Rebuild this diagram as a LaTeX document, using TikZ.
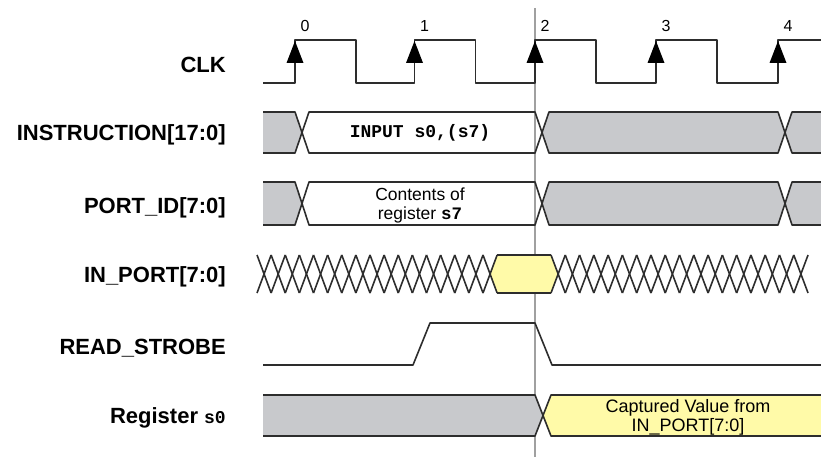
\documentclass[tikz,border=0pt]{standalone}
\usepackage{fontspec}
\setmainfont{Liberation Sans}
\newfontfamily\codefont{Liberation Mono}
\definecolor{WaveColor}{RGB}{45,45,45}
\definecolor{BusGray}{RGB}{200,201,204}
\definecolor{BusYellow}{RGB}{255,250,168}
\definecolor{MarkerGray}{RGB}{160,160,160}

\begin{document}
\begin{tikzpicture}[x=1pt, y=-1pt, line join=round,
    wave/.style={WaveColor, line width=1.6pt},
    siglabel/.style={anchor=east, inner sep=0pt, font=\fontsize{22}{26}\selectfont\bfseries},
    buslabel/.style={inner sep=0pt, align=center, font=\fontsize{17.5}{19}\selectfont}]
  \useasboundingbox (0,0) rectangle (821,457);

  % signal names
  \node[siglabel] (lclk)  at (226,65)  {CLK};
  \node[siglabel] (linst) at (226,135) {INSTRUCTION[17:0]};
  \node[siglabel] (lpid)  at (226,208) {PORT\_ID[7:0]};
  \node[siglabel] (linp)  at (226,277) {IN\_PORT[7:0]};
  \node[siglabel] (lrd)   at (226,348) {READ\_STROBE};
  \node[siglabel] (lreg)  at (226,418) {Register {\codefont\fontsize{18}{20}\selectfont s0}};

  % marker at clock edge 2
  \draw[MarkerGray, line width=2.2pt] (535,8) -- (535,457);

  % CLK
  \draw[wave] (263,83)
    \foreach \r in {295,414.5,535,656} { -- (\r,83) -- (\r,40) -- (\r+61,40) -- (\r+61,83) }
    -- (778,83) -- (778,40) -- (821,40);
  \foreach \r/\n in {295/0,414.5/1,535/2,656/3,778/4} {
    \fill[black] (\r,41) -- (\r+8.5,63) -- (\r-8.5,63) -- cycle;
    \node[inner sep=0pt, font=\fontsize{16}{18}\selectfont] (edge\n) at (\r+10,26) {\n};
  }

  % INSTRUCTION and PORT_ID
  \foreach \t/\b in {112/153, 182/225} {
    \fill[BusGray] (263,\t) -- (295,\t) -- (302,{(\t+\b)/2}) -- (295,\b) -- (263,\b) -- cycle;
    \fill[BusGray] (549,\t) -- (778,\t) -- (785,{(\t+\b)/2}) -- (778,\b) -- (549,\b) -- (542,{(\t+\b)/2}) -- cycle;
    \fill[BusGray] (792,\t) -- (821,\t) -- (821,\b) -- (792,\b) -- (785,{(\t+\b)/2}) -- cycle;
    \draw[wave] (263,\t) -- (295,\t) -- (309,\b) -- (535,\b) -- (549,\t) -- (778,\t) -- (792,\b) -- (821,\b);
    \draw[wave] (263,\b) -- (295,\b) -- (309,\t) -- (535,\t) -- (549,\b) -- (778,\b) -- (792,\t) -- (821,\t);
  }
  \node[buslabel, font=\codefont\bfseries\fontsize{18}{20}\selectfont] (instr) at (420,133) {INPUT s0,(s7)};
  \node[buslabel] (portid) at (420,205) {Contents of\\register {\codefont\bfseries s7}};

  % IN_PORT
  \fill[BusYellow] (490,274) -- (497,255) -- (551,255) -- (558,274) -- (551,293) -- (497,293) -- cycle;
  \draw[wave] (497,255) -- (551,255);
  \draw[wave] (497,293) -- (551,293);
  \foreach \i in {0,...,16} {
    \draw[wave] (257+14.125*\i,255) -- (271.125+14.125*\i,293);
    \draw[wave] (257+14.125*\i,293) -- (271.125+14.125*\i,255);
  }
  \foreach \i in {0,...,17} {
    \draw[wave] (551+14.28*\i,255) -- (565.28+14.28*\i,293);
    \draw[wave] (551+14.28*\i,293) -- (565.28+14.28*\i,255);
  }

  % READ_STROBE
  \draw[wave] (263,365) -- (413,365) -- (430,323) -- (535,323) -- (552,365) -- (821,365);

  % Register s0
  \fill[BusGray] (263,395) -- (535,395) -- (543,415.5) -- (535,436) -- (263,436) -- cycle;
  \fill[BusYellow] (551,395) -- (821,395) -- (821,436) -- (551,436) -- (543,415.5) -- cycle;
  \draw[wave] (263,395) -- (535,395) -- (551,436) -- (821,436);
  \draw[wave] (263,436) -- (535,436) -- (551,395) -- (821,395);
  \node[buslabel, font=\fontsize{18}{19}\selectfont] (captured) at (688,417) {Captured Value from\\IN\_PORT[7:0]};
\end{tikzpicture}
\end{document}
